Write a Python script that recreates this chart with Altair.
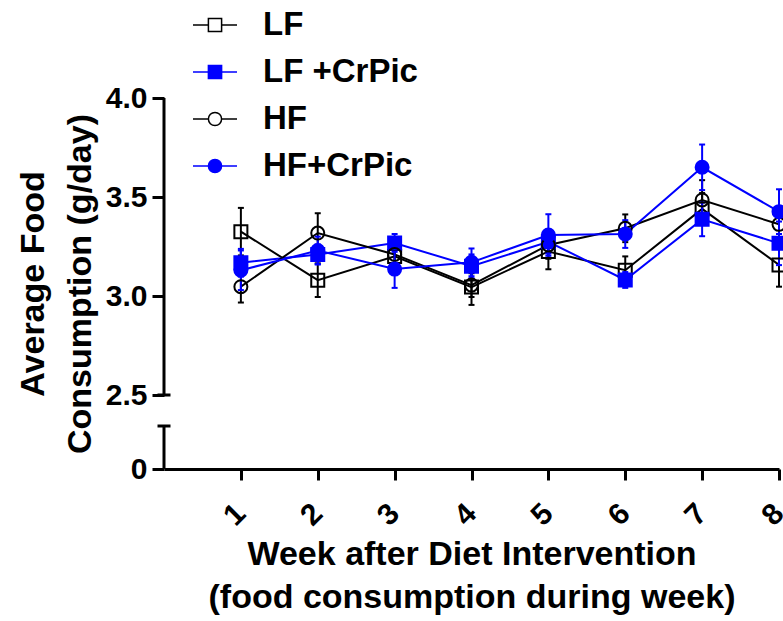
import altair as alt
import pandas as pd

weeks = [1, 2, 3, 4, 5, 6, 7, 8]
groups = ["LF", "LF +CrPic", "HF", "HF+CrPic"]
means = {
    "LF":        [3.325, 3.080, 3.200, 3.045, 3.225, 3.130, 3.440, 3.157],
    "LF +CrPic": [3.168, 3.210, 3.268, 3.150, 3.274, 3.081, 3.387, 3.266],
    "HF":        [3.047, 3.318, 3.210, 3.055, 3.258, 3.342, 3.485, 3.362],
    "HF+CrPic":  [3.130, 3.230, 3.136, 3.170, 3.308, 3.313, 3.650, 3.426],
}
sems = {
    "LF":        [0.120, 0.085, 0.050, 0.090, 0.090, 0.070, 0.080, 0.110],
    "LF +CrPic": [0.070, 0.050, 0.045, 0.060, 0.060, 0.040, 0.085, 0.110],
    "HF":        [0.080, 0.100, 0.050, 0.060, 0.070, 0.070, 0.100, 0.080],
    "HF+CrPic":  [0.100, 0.070, 0.095, 0.070, 0.105, 0.070, 0.115, 0.113],
}
y_ticks = [0, 2.5, 3.0, 3.5, 4.0]
# broken y axis: upper segment 2.5-4.0, lower stub 0-0.25
axis_seg_lo = [2.5, 0.0]
axis_seg_hi = [4.0, 0.25]

rows = []
for g in groups:
    for w, m, s in zip(weeks, means[g], sems[g]):
        rows.append({"week": w, "group": g, "mean": m, "lo": m - s, "hi": m + s})
df = pd.DataFrame(rows)
seg_df = pd.DataFrame({"s0": axis_seg_lo, "s1": axis_seg_hi})
cap_df = pd.DataFrame({"v": [axis_seg_lo[0], axis_seg_hi[1]]})

FONT = "Liberation Sans"
BLUE = "#0000ff"

xscale = alt.Scale(domain=[0, 8], nice=False, zero=False)
yscale = alt.Scale(domain=[0, 0.25, 2.5, 4.0], range=[371, 328, 297, 0], nice=False, zero=False)

xaxis = alt.Axis(values=weeks, format="d", labelAngle=-45, labelAlign="right", labelBaseline="top",
                 labelFont=FONT, labelFontSize=30, labelFontWeight="bold", labelColor="black",
                 labelPadding=18, labelOffset=-11, tickSize=11, tickWidth=3, tickColor="black",
                 domainWidth=3, domainColor="black", grid=False,
                 title=["Week after Diet Intervention", "(food consumption during week)"],
                 titleFont=FONT, titleFontSize=34, titleFontWeight="bold", titleColor="black",
                 titleLineHeight=43, titleY=68, titleBaseline="top")
yaxis = alt.Axis(values=y_ticks, labelExpr="datum.value == 0 ? '0' : format(datum.value, '.1f')",
                 labelFont=FONT, labelFontSize=30, labelFontWeight="bold", labelColor="black",
                 labelPadding=5, tickSize=12, tickWidth=3, tickColor="black", domain=False, grid=False,
                 title=["Average Food", "Consumption (g/day)"],
                 titleFont=FONT, titleFontSize=34, titleFontWeight="bold", titleColor="black",
                 titleLineHeight=47, titlePadding=8)

color_scale = alt.Scale(domain=groups, range=["black", BLUE, "black", BLUE])
fill_scale = alt.Scale(domain=groups, range=["transparent", BLUE, "transparent", BLUE])
legend_paths = [
    "M-1,0H-0.3M0.3,0H1M-0.3,-0.3H0.3V0.3H-0.3Z",
    "M-1,0H-0.3M0.3,0H1M-0.3,-0.3H0.3V0.3H-0.3Z",
    "M-1,0H-0.3M0.3,0H1M-0.3,0A0.3,0.3,0,1,1,0.3,0A0.3,0.3,0,1,1,-0.3,0Z",
    "M-1,0H-0.3M0.3,0H1M-0.3,0A0.3,0.3,0,1,1,0.3,0A0.3,0.3,0,1,1,-0.3,0Z",
]
shape_scale = alt.Scale(domain=groups, range=legend_paths)

leg = alt.Legend(title=None, orient="none", legendX=28, legendY=-96,
                 labelFont=FONT, labelFontSize=33, labelFontWeight="bold", labelColor="black",
                 symbolSize=1936, symbolStrokeWidth=1.5, labelOffset=25, rowPadding=7,
                 symbolOpacity=1, symbolFillColor="white")

X = alt.X("week:Q", scale=xscale, axis=xaxis)
Y = alt.Y("mean:Q", scale=yscale, axis=yaxis)
C = alt.Color("group:N", scale=color_scale)
F = alt.Fill("group:N", scale=fill_scale)

axis_rule = alt.Chart(seg_df).mark_rule(strokeWidth=3, color="black").encode(
    x=alt.datum(0), y=alt.Y("s0:Q", scale=yscale, axis=yaxis), y2="s1:Q")
axis_caps = alt.Chart(cap_df).mark_tick(orient="horizontal", size=13, thickness=3,
                                         color="black", opacity=1).encode(
    x=alt.datum(0), y=alt.Y("v:Q", scale=yscale, axis=yaxis))

base = alt.Chart(df)
lines = base.mark_line(strokeWidth=2).encode(x=X, y=Y, color=C, order="week:Q")


def errbars(sel, col):
    return base.transform_filter(alt.FieldOneOfPredicate(field="group", oneOf=sel)).mark_errorbar(
        ticks={"opacity": 1}, rule={"opacity": 1}, size=6, thickness=2, color=col).encode(
        x=X, y=alt.Y("lo:Q", scale=yscale, axis=yaxis), y2="hi:Q")


errs_black = errbars([groups[0], groups[2]], "black")
errs_blue = errbars([groups[1], groups[3]], BLUE)
sq = base.transform_filter(alt.FieldOneOfPredicate(field="group", oneOf=groups[:2])).mark_point(
    shape="square", size=169, strokeWidth=2, opacity=1).encode(x=X, y=Y, color=C, fill=F)
ci = base.transform_filter(alt.FieldOneOfPredicate(field="group", oneOf=groups[2:])).mark_point(
    shape="circle", size=169, strokeWidth=2, opacity=1).encode(x=X, y=Y, color=C, fill=F)
legend_layer = base.transform_filter("false").mark_point(opacity=1, strokeWidth=1.5).encode(
    x=X, y=Y,
    color=alt.Color("group:N", scale=color_scale, legend=leg),
    fill=alt.Fill("group:N", scale=fill_scale, legend=leg),
    shape=alt.Shape("group:N", scale=shape_scale, legend=leg))

chart = alt.layer(legend_layer, lines, errs_black, errs_blue, sq, ci, axis_rule, axis_caps).properties(
    width=615, height=371,
    autosize=alt.AutoSizeParams(type="none"),
    padding={"left": 164, "top": 98, "right": 4, "bottom": 152},
    background="white",
).configure_view(strokeWidth=0).configure_legend(symbolFillColor="white", symbolOpacity=1)

chart.save("out.html", embed_options={"renderer": "svg", "actions": False})
